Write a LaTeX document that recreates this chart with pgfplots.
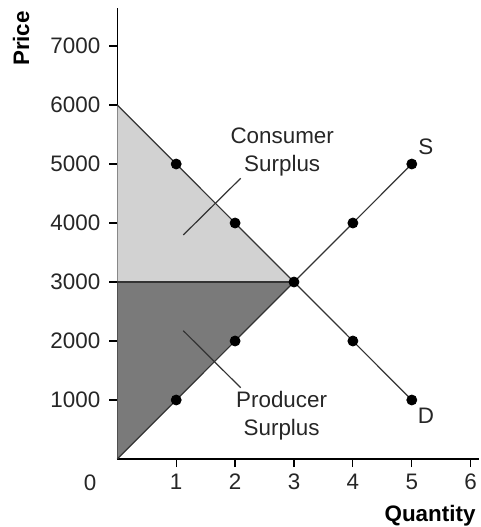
\documentclass[border=0pt]{standalone}
\usepackage{fontspec}
\setmainfont{Liberation Sans}
\usepackage{pgfplots}
\pgfplotsset{compat=1.18}
\definecolor{lightfill}{HTML}{D2D2D2}
\definecolor{darkfill}{HTML}{7A7A7A}
\definecolor{linec}{HTML}{333333}
\begin{document}
\begin{tikzpicture}
\begin{axis}[
  at={(0,0)}, anchor=origin,
  x=29.45pt, y=0.0295pt,
  xmin=0, xmax=6.14, ymin=0, ymax=7640,
  axis lines=left,
  axis line style={-, black, line width=0.6pt},
  clip=false,
  xtick={1,2,3,4,5,6},
  ytick={1000,2000,3000,4000,5000,6000,7000},
  tick align=outside,
  major tick length=4pt,
  tick style={black, line width=0.6pt},
  /pgf/number format/assume math mode=true,
  /pgf/number format/1000 sep={},
  tick label style={font=\fontsize{11.2}{13.4}\selectfont, text=black!85},
  yticklabel style={xshift=-1pt},
]
% surplus areas
\addplot[fill=lightfill, draw=none] coordinates {(0,6000) (3,3000) (0,3000)} -- cycle;
\addplot[fill=darkfill, draw=none] coordinates {(0,0) (3,3000) (0,3000)} -- cycle;
\addplot[linec, line width=0.6pt] coordinates {(0,3000) (3,3000)};
% demand and supply
\addplot[linec, line width=0.6pt] coordinates {(0,6000) (5,1000)};
\addplot[linec, line width=0.6pt] coordinates {(0,0) (5,5000)};
\addplot[only marks, mark=*, mark size=2.5pt, black] coordinates {(1,5000) (2,4000) (3,3000) (4,2000) (5,1000)};
\addplot[only marks, mark=*, mark size=2.5pt, black] coordinates {(1,1000) (2,2000) (4,4000) (5,5000)};
% leader lines
\addplot[linec, line width=0.6pt] coordinates {(2.095,4758) (1.12,3797)};
\addplot[linec, line width=0.6pt] coordinates {(1.12,2175) (2.095,1208)};
% labels
\node[align=center, font=\fontsize{11.2}{13.8}\selectfont, text=black!85] at (axis cs:2.80,5203) {Consumer\\Surplus};
\node[align=center, font=\fontsize{11.2}{13.8}\selectfont, text=black!85] at (axis cs:2.79,729) {Producer\\Surplus};
\node[font=\fontsize{11.2}{13.4}\selectfont, text=black!85] at (axis cs:5.24,5297) {S};
\node[font=\fontsize{11.2}{13.4}\selectfont, text=black!85] at (axis cs:5.24,734) {D};
\node[font=\fontsize{11.2}{13.4}\selectfont, text=black!85] at (axis cs:-0.46,-407) {0};
\node[font=\fontsize{11.2}{13.4}\selectfont\bfseries] at (axis cs:5.31,-966) {Quantity};
\node[font=\fontsize{11.2}{13.4}\selectfont\bfseries, rotate=90] at (axis cs:-1.635,7127) {Price};
\end{axis}
\pgfresetboundingbox
\path (-58.65pt,-34pt) rectangle (181.85pt,229.5pt);
\end{tikzpicture}
\end{document}
